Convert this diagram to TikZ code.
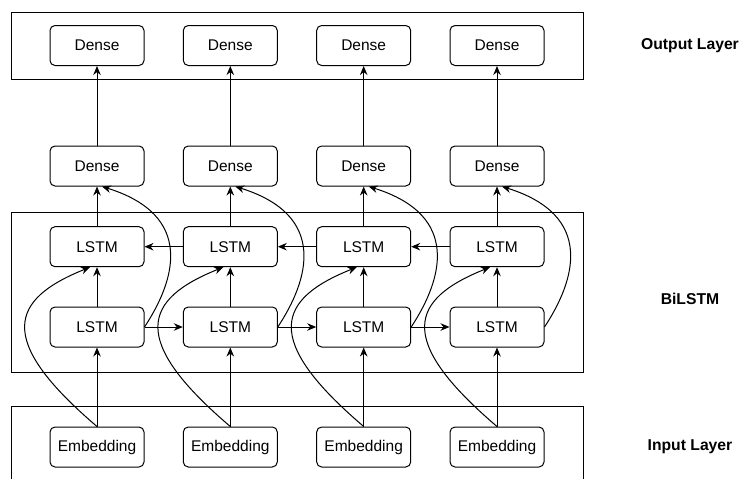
\documentclass[tikz,border=0pt]{standalone}
\usepackage{fontspec}
\setmainfont{Liberation Sans}
\usetikzlibrary{arrows.meta,calc}
\begin{document}
\begin{tikzpicture}[x=1pt,y=-1pt,
  unit/.style={draw, rounded corners=5pt, minimum width=94pt, minimum height=40pt,
    inner sep=0pt, line width=1pt, font=\fontsize{15.5}{18}\selectfont},
  layerbox/.style={draw, line width=1pt, inner sep=0pt, minimum width=572pt},
  tag/.style={font=\fontsize{15.7}{18}\selectfont\bfseries},
  flow/.style={line width=1pt, -{Stealth[length=9pt,width=7.5pt]}},
]
\useasboundingbox (0,0) rectangle (742,479);
\clip (0,0) rectangle (742,479);

% layer frames
\node[layerbox, minimum height=66.7pt] (outL) at (297,45.7) {};
\node[layerbox, minimum height=159.8pt] (biL) at (297,292.6) {};
\node[layerbox, minimum height=100pt] (inL) at (297,456.7) {};

% layer captions
\node[tag] (tOut) at (690,45.5) {Output Layer};
\node[tag] (tBi) at (690,299) {BiLSTM};
\node[tag] (tIn) at (690,447) {Input Layer};

% units per time step
\foreach \i/\x in {1/97,2/230.3,3/363.7,4/497} {
  \node[unit] (d\i)  at (\x,45.5)  {Dense};
  \node[unit] (m\i)  at (\x,166)   {Dense};
  \node[unit] (lt\i) at (\x,246.7) {LSTM};
  \node[unit] (lb\i) at (\x,327)   {LSTM};
  \node[unit] (e\i)  at (\x,447)   {Embedding};
}

% vertical flow and skip connections
\foreach \i in {1,2,3,4} {
  \draw[flow] (m\i.north) -- (d\i.south);
  \draw[flow] (lt\i.north) -- (m\i.south);
  \draw[flow] (lb\i.north) -- (lt\i.south);
  \draw[flow] (e\i.north) -- (lb\i.south);
  \draw[flow] (e\i.north) .. controls +(-102,-87) and +(-80,32) .. ([xshift=-7pt]lt\i.south);
  \draw[flow] (lb\i.east) .. controls +(31,-47) and +(93,29) .. ([xshift=5pt]m\i.south);
}

% recurrent links: forward (bottom) and backward (top)
\foreach \i/\j in {1/2,2/3,3/4} {
  \draw[flow] (lb\i.east) -- (lb\j.west);
  \draw[flow] (lt\j.west) -- (lt\i.east);
}
\end{tikzpicture}
\end{document}
